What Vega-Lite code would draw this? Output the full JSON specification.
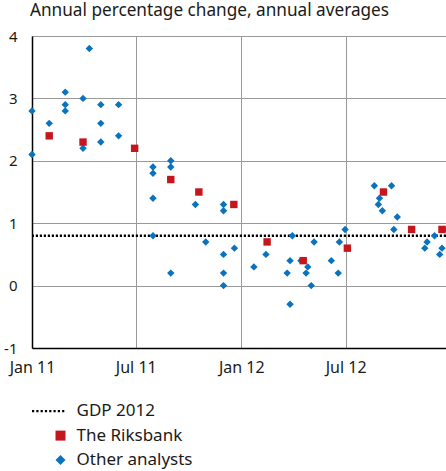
{
  "$schema": "https://vega.github.io/schema/vega-lite/v6.json",
  "width": 414,
  "height": 312,
  "autosize": {"type": "none"},
  "padding": {"left": 32, "top": 36, "right": 0, "bottom": 123},
  "background": "white",
  "config": {
    "font": "Noto Sans",
    "view": {"stroke": null}
  },
  "title": {
    "text": "Annual percentage change, annual averages",
    "anchor": "start",
    "frame": "group",
    "dx": -2,
    "offset": 10,
    "fontSize": 17.2,
    "fontWeight": "normal",
    "color": "#1a1a1a"
  },
  "datasets": {
    "gdp": [{"label": "GDP 2012", "value": 0.8}],
    "forecasts": [
      {"date": "2011-01-01", "value": 2.8, "series": "Other analysts"},
      {"date": "2011-01-01", "value": 2.1, "series": "Other analysts"},
      {"date": "2011-01-31", "value": 2.6, "series": "Other analysts"},
      {"date": "2011-02-28", "value": 3.1, "series": "Other analysts"},
      {"date": "2011-02-28", "value": 2.9, "series": "Other analysts"},
      {"date": "2011-02-28", "value": 2.8, "series": "Other analysts"},
      {"date": "2011-03-31", "value": 3.0, "series": "Other analysts"},
      {"date": "2011-03-31", "value": 2.2, "series": "Other analysts"},
      {"date": "2011-04-11", "value": 3.8, "series": "Other analysts"},
      {"date": "2011-05-01", "value": 2.9, "series": "Other analysts"},
      {"date": "2011-05-01", "value": 2.6, "series": "Other analysts"},
      {"date": "2011-05-01", "value": 2.3, "series": "Other analysts"},
      {"date": "2011-06-01", "value": 2.9, "series": "Other analysts"},
      {"date": "2011-06-01", "value": 2.4, "series": "Other analysts"},
      {"date": "2011-07-31", "value": 1.9, "series": "Other analysts"},
      {"date": "2011-07-31", "value": 1.8, "series": "Other analysts"},
      {"date": "2011-07-31", "value": 1.4, "series": "Other analysts"},
      {"date": "2011-07-31", "value": 0.8, "series": "Other analysts"},
      {"date": "2011-08-31", "value": 2.0, "series": "Other analysts"},
      {"date": "2011-08-31", "value": 1.9, "series": "Other analysts"},
      {"date": "2011-08-31", "value": 0.2, "series": "Other analysts"},
      {"date": "2011-10-13", "value": 1.3, "series": "Other analysts"},
      {"date": "2011-10-31", "value": 0.7, "series": "Other analysts"},
      {"date": "2011-12-01", "value": 1.3, "series": "Other analysts"},
      {"date": "2011-12-01", "value": 1.2, "series": "Other analysts"},
      {"date": "2011-12-01", "value": 0.5, "series": "Other analysts"},
      {"date": "2011-12-01", "value": 0.2, "series": "Other analysts"},
      {"date": "2011-12-01", "value": 0.0, "series": "Other analysts"},
      {"date": "2011-12-20", "value": 0.6, "series": "Other analysts"},
      {"date": "2012-01-23", "value": 0.3, "series": "Other analysts"},
      {"date": "2012-02-13", "value": 0.5, "series": "Other analysts"},
      {"date": "2012-03-21", "value": 0.2, "series": "Other analysts"},
      {"date": "2012-03-26", "value": 0.4, "series": "Other analysts"},
      {"date": "2012-03-26", "value": -0.3, "series": "Other analysts"},
      {"date": "2012-03-30", "value": 0.8, "series": "Other analysts"},
      {"date": "2012-04-14", "value": 0.4, "series": "Other analysts"},
      {"date": "2012-04-23", "value": 0.2, "series": "Other analysts"},
      {"date": "2012-04-26", "value": 0.3, "series": "Other analysts"},
      {"date": "2012-05-02", "value": 0.0, "series": "Other analysts"},
      {"date": "2012-05-07", "value": 0.7, "series": "Other analysts"},
      {"date": "2012-06-06", "value": 0.4, "series": "Other analysts"},
      {"date": "2012-06-18", "value": 0.2, "series": "Other analysts"},
      {"date": "2012-06-20", "value": 0.7, "series": "Other analysts"},
      {"date": "2012-06-30", "value": 0.9, "series": "Other analysts"},
      {"date": "2012-08-20", "value": 1.6, "series": "Other analysts"},
      {"date": "2012-08-27", "value": 1.3, "series": "Other analysts"},
      {"date": "2012-08-29", "value": 1.4, "series": "Other analysts"},
      {"date": "2012-09-03", "value": 1.2, "series": "Other analysts"},
      {"date": "2012-09-19", "value": 1.6, "series": "Other analysts"},
      {"date": "2012-09-23", "value": 0.9, "series": "Other analysts"},
      {"date": "2012-09-29", "value": 1.1, "series": "Other analysts"},
      {"date": "2012-11-16", "value": 0.6, "series": "Other analysts"},
      {"date": "2012-11-20", "value": 0.7, "series": "Other analysts"},
      {"date": "2012-12-03", "value": 0.8, "series": "Other analysts"},
      {"date": "2012-12-12", "value": 0.5, "series": "Other analysts"},
      {"date": "2012-12-16", "value": 0.6, "series": "Other analysts"},
      {"date": "2012-12-20", "value": 0.9, "series": "Other analysts"},
      {"date": "2011-01-31", "value": 2.4, "series": "The Riksbank"},
      {"date": "2011-03-31", "value": 2.3, "series": "The Riksbank"},
      {"date": "2011-06-29", "value": 2.2, "series": "The Riksbank"},
      {"date": "2011-08-31", "value": 1.7, "series": "The Riksbank"},
      {"date": "2011-10-19", "value": 1.5, "series": "The Riksbank"},
      {"date": "2011-12-19", "value": 1.3, "series": "The Riksbank"},
      {"date": "2012-02-15", "value": 0.7, "series": "The Riksbank"},
      {"date": "2012-04-18", "value": 0.4, "series": "The Riksbank"},
      {"date": "2012-07-04", "value": 0.6, "series": "The Riksbank"},
      {"date": "2012-09-05", "value": 1.5, "series": "The Riksbank"},
      {"date": "2012-10-24", "value": 0.9, "series": "The Riksbank"},
      {"date": "2012-12-16", "value": 0.9, "series": "The Riksbank"}
    ]
  },
  "encoding": {
    "y": {
      "field": "value",
      "type": "quantitative",
      "scale": {"domain": [-1, 4], "nice": false, "zero": false},
      "axis": {
        "title": null,
        "values": [-1, 0, 1, 2, 3, 4],
        "labelExpr": "'' + datum.value",
        "grid": true,
        "gridColor": "#999999",
        "gridWidth": 1,
        "ticks": false,
        "domainColor": "#000000",
        "domainWidth": 1.5,
        "labelFontSize": 15,
        "labelColor": "#1a1a1a",
        "labelPadding": 15,
        "labelFlush": false,
        "labelOverlap": false
      }
    }
  },
  "layer": [
    {
      "data": {"name": "gdp"},
      "mark": {
        "type": "rule",
        "color": "#000000",
        "strokeWidth": 2.4,
        "strokeDash": [2.2, 1.8]
      },
      "encoding": {}
    },
    {
      "data": {"name": "forecasts"},
      "mark": {
        "type": "point",
        "filled": true,
        "opacity": 1,
        "size": 55,
        "strokeWidth": 0
      },
      "encoding": {
        "x": {
          "field": "date",
          "type": "temporal",
          "scale": {
            "type": "utc",
            "domain": [
              {"year": 2011, "month": 1, "date": 1, "utc": true},
              {"year": 2012, "month": 12, "date": 23, "utc": true}
            ]
          },
          "axis": {
            "title": null,
            "values": [
              {"year": 2011, "month": 1, "date": 1, "utc": true},
              {"year": 2011, "month": 7, "date": 1, "utc": true},
              {"year": 2012, "month": 1, "date": 1, "utc": true},
              {"year": 2012, "month": 7, "date": 1, "utc": true}
            ],
            "labelExpr": "utcFormat(datum.value, '%b %y')",
            "grid": true,
            "gridColor": "#999999",
            "gridWidth": 1,
            "ticks": false,
            "domainColor": "#000000",
            "domainWidth": 1.5,
            "labelFontSize": 16,
            "labelColor": "#1a1a1a",
            "labelPadding": 11,
            "labelFlush": false,
            "labelOverlap": false
          }
        },
        "color": {
          "field": "series",
          "type": "nominal",
          "scale": {
            "domain": ["GDP 2012", "The Riksbank", "Other analysts"],
            "range": ["#000000", "#c4161c", "#0b72bd"]
          },
          "legend": {
            "title": null,
            "orient": "none",
            "legendX": 20,
            "legendY": 366.6,
            "direction": "vertical",
            "padding": 0,
            "symbolSize": 100,
            "symbolStrokeWidth": 0,
            "symbolOpacity": 1,
            "labelFontSize": 17,
            "labelColor": "#1a1a1a",
            "labelOffset": 7.5,
            "rowPadding": 6.5
          }
        },
        "shape": {
          "field": "series",
          "type": "nominal",
          "scale": {
            "domain": ["GDP 2012", "The Riksbank", "Other analysts"],
            "range": [
              "M-5.7,-0.24H-5.26V0.24H-5.7Z M-4.84,-0.24H-4.4V0.24H-4.84Z M-3.98,-0.24H-3.54V0.24H-3.98Z M-3.12,-0.24H-2.68V0.24H-3.12Z M-2.26,-0.24H-1.82V0.24H-2.26Z M-1.4,-0.24H-0.96V0.24H-1.4Z M-0.54,-0.24H-0.1V0.24H-0.54Z M0.32,-0.24H0.76V0.24H0.32Z",
              "square",
              "diamond"
            ]
          },
          "legend": {
            "title": null,
            "orient": "none",
            "legendX": 20,
            "legendY": 366.6,
            "direction": "vertical",
            "padding": 0,
            "symbolSize": 100,
            "symbolStrokeWidth": 0,
            "symbolOpacity": 1,
            "labelFontSize": 17,
            "labelColor": "#1a1a1a",
            "labelOffset": 7.5,
            "rowPadding": 6.5
          }
        }
      }
    }
  ]
}
